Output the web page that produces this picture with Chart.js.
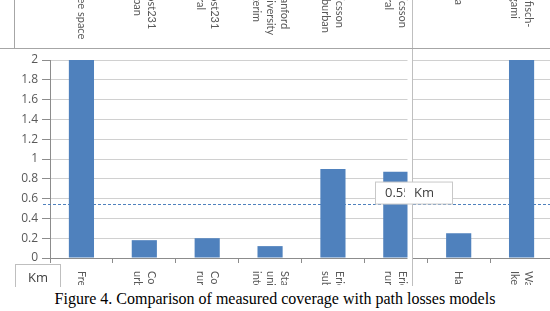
<!DOCTYPE html>
<html>
<head>
<meta charset="utf-8">
<script src="https://cdn.jsdelivr.net/npm/chart.js@4/dist/chart.umd.min.js"></script>
<style>
  html, body { margin: 0; padding: 0; background: #fff; }
  #wrap { position: relative; width: 550px; height: 311px; overflow: hidden; }
  #chart { position: absolute; left: 0; top: 0; }
  #caption {
    position: absolute; left: 0; top: 287px; width: 550px; height: 24px;
    background: #fff; text-align: center; line-height: 24px;
    font-family: "Liberation Serif", "Times New Roman", serif; font-size: 16px; color: #000;
  }
</style>
</head>
<body>
<div id="wrap">
  <canvas id="chart" width="560" height="287"></canvas>
  <div id="caption">Figure 4. Comparison of measured coverage with path losses models</div>
</div>
<script>
// path loss models (wrapped like the original axis labels)
const models = [
  ['Free space'],
  ['Cost231', 'urban'],
  ['Cost231', 'rural'],
  ['Stanford', 'university', 'interim'],
  ['Ericsson', 'suburban'],
  ['Ericsson', 'rural'],
  ['Hata'],
  ['Walfisch-', 'Ikegami']
];
// coverage distance predicted by each model, km
const coverageKm = [2, 0.18, 0.2, 0.12, 0.9, 0.87, 0.25, 2];
// measured coverage, km
const measuredKm = 0.55;
const yMin = 0, yMax = 2, yStep = 0.2;

const blue = '#4f81bd';
const gridGray = '#d0d0d0';
const axisGray = '#8c8c8c';
const textGray = '#595959';
const labelFont = '11px Lato, "Open Sans", sans-serif';

// labels read top to bottom; each line starts at startY (or startY2 in the right panel)
function drawRotatedLabels(ctx, xs, startY, startY2) {
  ctx.font = labelFont;
  ctx.fillStyle = textGray;
  ctx.textAlign = 'left';
  ctx.textBaseline = 'middle';
  models.forEach((lines, i) => {
    let x = xs.getPixelForValue(i);
    let n = lines.length;
    let y0 = i < 6 ? startY : startY2;
    lines.forEach((line, j) => {
      let off = ((n - 1) / 2 - j) * 14;
      ctx.save();
      ctx.translate(x + off, y0);
      ctx.rotate(Math.PI / 2);
      ctx.fillText(line, 0, 0);
      ctx.restore();
    });
  });
}

const extras = {
  id: 'extras',
  beforeDatasetsDraw(chart) {
    // measured coverage line goes under the bars
    let ctx = chart.ctx, area = chart.chartArea;
    let y = Math.round(chart.scales.y.getPixelForValue(measuredKm)) + 0.5;
    ctx.save();
    ctx.strokeStyle = blue;
    ctx.lineWidth = 1;
    ctx.setLineDash([3, 2]);
    ctx.beginPath();
    ctx.moveTo(area.left - 7, y);
    ctx.lineTo(area.right, y);
    ctx.stroke();
    ctx.restore();
  },
  afterDraw(chart) {
    let ctx = chart.ctx, area = chart.chartArea;
    let xs = chart.scales.x, ys = chart.scales.y;
    let sepX = 412.5;

    ctx.save();
    // gap between the two panels
    ctx.fillStyle = '#fff';
    ctx.fillRect(sepX - 5, 0, 5, area.bottom + 1);
    ctx.strokeStyle = '#bfbfbf';
    ctx.lineWidth = 1;
    ctx.beginPath();
    ctx.moveTo(sepX, 0);
    ctx.lineTo(sepX, 286);
    ctx.stroke();

    // header strip with the cut labels of the figure above
    ctx.strokeStyle = '#a6a6a6';
    ctx.beginPath();
    ctx.moveTo(0, 48.5);
    ctx.lineTo(550, 48.5);
    ctx.moveTo(14.5, 0);
    ctx.lineTo(14.5, 48);
    ctx.stroke();
    ctx.save();
    ctx.beginPath();
    ctx.rect(0, 0, 560, 46);
    ctx.clip();
    drawRotatedLabels(ctx, xs, -12, -18);
    ctx.restore();

    // bottom labels, cut by the caption
    ctx.save();
    ctx.beginPath();
    ctx.rect(0, area.bottom + 6, 560, 285 - area.bottom - 6);
    ctx.clip();
    drawRotatedLabels(ctx, xs, 271, 271);
    ctx.restore();

    // "Km" box
    ctx.fillStyle = '#fff';
    ctx.fillRect(15.5, 264.5, 45, 30);
    ctx.strokeStyle = '#bfbfbf';
    ctx.strokeRect(15.5, 264.5, 45, 30);
    ctx.fillStyle = '#404040';
    ctx.font = '13px "Open Sans", "Liberation Sans", sans-serif';
    ctx.textAlign = 'left';
    ctx.textBaseline = 'middle';
    ctx.fillText('Km', 28, 278);

    // measured value box
    let by = ys.getPixelForValue(measuredKm) - 22;
    ctx.fillStyle = '#fff';
    ctx.fillRect(375.5, by + 0.5, 77, 22);
    ctx.strokeStyle = '#c8c8c8';
    ctx.strokeRect(375.5, by + 0.5, 77, 22);
    ctx.fillStyle = '#404040';
    ctx.fillText(measuredKm.toFixed(2) + ' Km', 385, by + 12);
    ctx.fillStyle = '#fff';
    ctx.fillRect(405, by + 3, 7, 17);
    ctx.restore();
  }
};

new Chart(document.getElementById('chart'), {
  type: 'bar',
  data: {
    labels: models,
    datasets: [{
      data: coverageKm,
      backgroundColor: blue,
      borderWidth: 0,
      categoryPercentage: 1,
      barPercentage: 0.4
    }]
  },
  options: {
    responsive: false,
    animation: false,
    layout: { padding: { top: 60, right: 7, left: 0, bottom: 0 } },
    plugins: {
      legend: { display: false },
      tooltip: { enabled: false }
    },
    scales: {
      x: {
        offset: true,
        ticks: { display: false },
        grid: {
          offset: true,
          drawOnChartArea: false,
          drawTicks: true,
          tickLength: 5,
          tickColor: axisGray
        },
        border: { color: axisGray },
        afterFit: s => { s.height = 29; }
      },
      y: {
        min: yMin,
        max: yMax,
        ticks: {
          stepSize: yStep,
          color: textGray,
          padding: 4,
          font: { family: '"Open Sans", "Liberation Sans", sans-serif', size: 12 },
          callback: v => Number(v.toFixed(1)).toString()
        },
        grid: {
          color: gridGray,
          tickColor: axisGray,
          tickLength: 8
        },
        border: { color: axisGray },
        afterFit: s => { s.width = 50; }
      }
    }
  },
  plugins: [extras]
});
</script>
</body>
</html>
